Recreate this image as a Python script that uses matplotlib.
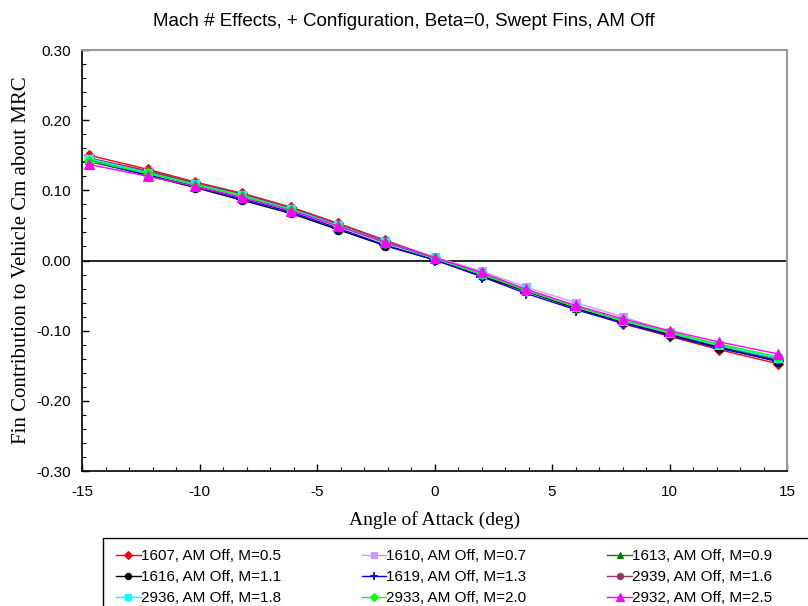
import numpy as np
import matplotlib
matplotlib.use("Agg")
import matplotlib.pyplot as plt
from matplotlib.ticker import MultipleLocator
from matplotlib.patches import Rectangle

plt.rcParams['axes.unicode_minus'] = False

# Angulo de ataque (deg)
alpha = [-14.7, -12.2, -10.2, -8.2, -6.1, -4.1, -2.1, 0.0, 2.0, 3.9, 6.0, 8.0, 10.0, 12.1, 14.6]

# Contribucion de aletas a Cm, una lista por corrida
cm_1607 = [0.150, 0.130, 0.112, 0.096, 0.076, 0.053, 0.029, 0.004, -0.019, -0.043, -0.068, -0.090, -0.108, -0.127, -0.147]
cm_1610 = [0.146, 0.127, 0.110, 0.094, 0.074, 0.051, 0.028, 0.005, -0.015, -0.038, -0.060, -0.080, -0.102, -0.120, -0.140]
cm_1613 = [0.143, 0.126, 0.110, 0.094, 0.073, 0.050, 0.026, 0.003, -0.019, -0.043, -0.067, -0.087, -0.105, -0.123, -0.142]
cm_1616 = [0.143, 0.121, 0.104, 0.086, 0.067, 0.044, 0.021, 0.001, -0.022, -0.044, -0.068, -0.088, -0.106, -0.124, -0.144]
cm_1619 = [0.141, 0.122, 0.106, 0.088, 0.069, 0.046, 0.022, 0.001, -0.023, -0.047, -0.070, -0.089, -0.107, -0.125, -0.143]
cm_2939 = [0.146, 0.128, 0.111, 0.095, 0.075, 0.052, 0.028, 0.004, -0.018, -0.042, -0.066, -0.086, -0.104, -0.121, -0.140]
cm_2936 = [0.145, 0.125, 0.109, 0.093, 0.073, 0.050, 0.026, 0.003, -0.019, -0.042, -0.066, -0.086, -0.103, -0.121, -0.139]
cm_2933 = [0.142, 0.124, 0.108, 0.092, 0.072, 0.049, 0.025, 0.003, -0.019, -0.043, -0.066, -0.085, -0.102, -0.119, -0.137]
cm_2932 = [0.137, 0.120, 0.106, 0.090, 0.071, 0.049, 0.026, 0.004, -0.017, -0.041, -0.064, -0.083, -0.100, -0.116, -0.133]

labels = ['1607, AM Off, M=0.5', '1610, AM Off, M=0.7', '1613, AM Off, M=0.9',
          '1616, AM Off, M=1.1', '1619, AM Off, M=1.3', '2939, AM Off, M=1.6',
          '2936, AM Off, M=1.8', '2933, AM Off, M=2.0', '2932, AM Off, M=2.5']
series = [cm_1607, cm_1610, cm_1613, cm_1616, cm_1619, cm_2939, cm_2936, cm_2933, cm_2932]
colores = ['#ff0000', '#cc99ff', '#008000', '#000000', '#0000ff', '#993366', '#00ffff', '#00ff00', '#ff00ff']
marcas = ['D', 's', '^', 'o', '+', 'o', 's', 'D', '^']
tamanos = [5, 6, 6, 6, 8, 6, 6, 5, 7]

fig = plt.figure(figsize=(8.08, 6.06), dpi=100)
ax = fig.add_axes([82/808, 1-471/606, (787-82)/808, (471-50)/606])

ax.axhline(0, color='black', linewidth=1.2, zorder=1)

lineas = []
for y, lab, c, m, s in zip(series, labels, colores, marcas, tamanos):
    l, = ax.plot(alpha, y, color=c, marker=m, markersize=s, linewidth=1.0, label=lab,
                 markeredgewidth=1.3 if m == '+' else 0.8, zorder=3)
    lineas.append(l)

ax.set_xlim(-15, 15)
ax.set_ylim(-0.3, 0.3)
ax.xaxis.set_major_locator(MultipleLocator(5))
ax.xaxis.set_minor_locator(MultipleLocator(1))
ax.yaxis.set_major_locator(MultipleLocator(0.1))
ax.yaxis.set_minor_locator(MultipleLocator(0.02))
ax.yaxis.set_major_formatter(plt.FuncFormatter(lambda v, p: f'{v:.2f}'))
ax.tick_params(which='both', direction='in', top=False, right=False)
ax.tick_params(which='major', length=5, width=1)
ax.tick_params(which='minor', length=3, width=0.8)
ax.tick_params(axis='both', labelsize=11)
ax.tick_params(axis='x', pad=10)
ax.tick_params(axis='y', pad=8)
for t in ax.get_xticklabels() + ax.get_yticklabels():
    t.set_family('Liberation Sans')

ax.spines['left'].set_color('black')
ax.spines['bottom'].set_color('black')
ax.spines['left'].set_linewidth(1.2)
ax.spines['bottom'].set_linewidth(1.2)
ax.spines['top'].set_color('#999999')
ax.spines['right'].set_color('#999999')
ax.spines['top'].set_linewidth(1.5)
ax.spines['right'].set_linewidth(1.5)

ax.set_xlabel('Angle of Attack (deg)', family='Liberation Serif', fontsize=14, labelpad=9)
ax.set_ylabel('Fin Contribution to Vehicle Cm about MRC', family='Liberation Serif', fontsize=15, labelpad=4)
fig.suptitle('Mach # Effects, + Configuration, Beta=0, Swept Fins, AM Off',
             family='Liberation Sans', fontsize=13.5, y=1-22/606, va='center')

# leyenda por filas (matplotlib llena por columnas)
orden = [0, 3, 6, 1, 4, 7, 2, 5, 8]
leg = fig.legend([lineas[i] for i in orden], [labels[i] for i in orden],
                 loc='upper left', bbox_to_anchor=(104/808, 1-537/606), ncol=3,
                 prop={'family': 'Liberation Sans', 'size': 11},
                 frameon=False, handlelength=1.6, handletextpad=0.0,
                 columnspacing=5.3, labelspacing=0.45, borderpad=0.3,
                 markerscale=0.75)
fig.add_artist(Rectangle((103/808, -0.05), 0.95, 1-538/606 + 0.05, transform=fig.transFigure,
                         fill=False, edgecolor='black', linewidth=1.0, clip_on=False))

fig.savefig('out.png', dpi=100)
